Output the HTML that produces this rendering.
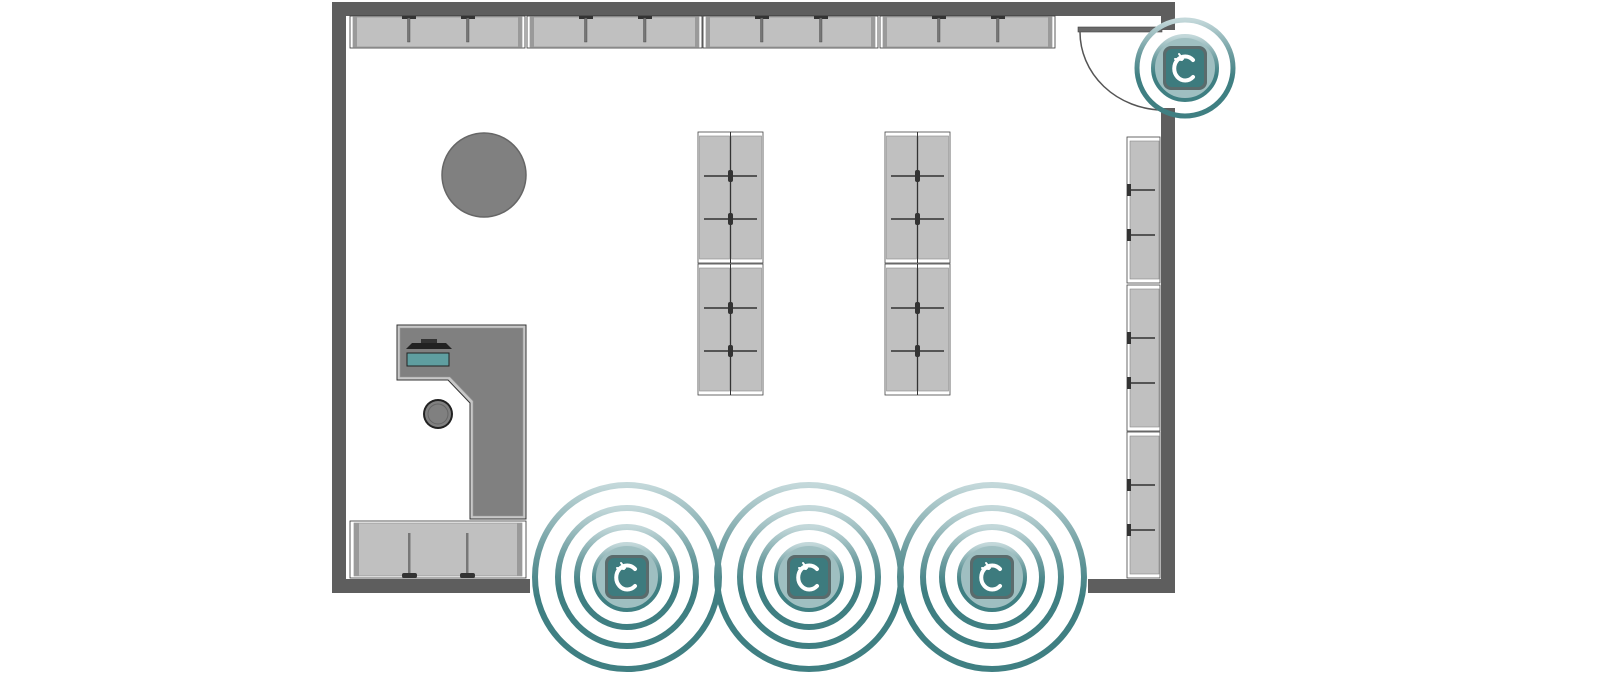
<!DOCTYPE html>
<html><head><meta charset="utf-8"><style>
html,body{margin:0;padding:0;background:#fff;width:1600px;height:688px;overflow:hidden}
svg{display:block}
</style></head><body>
<svg width="1600" height="688" viewBox="0 0 1600 688" xmlns="http://www.w3.org/2000/svg">
<defs>
<linearGradient id="rg" x1="0" y1="0" x2="0" y2="1">
<stop offset="0" stop-color="#c3d8da"/><stop offset="0.35" stop-color="#6d9da0"/><stop offset="0.6" stop-color="#3f7f82"/><stop offset="1" stop-color="#3f7f82"/>
</linearGradient>
<g id="hs">
<rect x="0" y="0" width="175" height="32" fill="#fff" stroke="#333" stroke-width="0.8"/>
<rect x="3" y="1" width="169" height="30" fill="#c0c0c0" stroke="#888" stroke-width="0.6"/>
<rect x="3" y="1" width="4" height="30" fill="#9a9a9a"/>
<rect x="168" y="1" width="4" height="30" fill="#9a9a9a"/>
<rect x="52" y="0" width="14" height="3" fill="#333"/>
<rect x="57.5" y="2" width="2.5" height="24" fill="#777" stroke="#444" stroke-width="0.4"/>
<rect x="111" y="0" width="14" height="3" fill="#333"/>
<rect x="116.5" y="2" width="2.5" height="24" fill="#777" stroke="#444" stroke-width="0.4"/>
</g>
<g id="vs">
<rect x="0" y="0" width="65" height="131" fill="#fff" stroke="#444" stroke-width="0.8"/>
<rect x="1.5" y="4" width="30" height="123" fill="#c0c0c0" stroke="#888" stroke-width="0.6"/>
<rect x="33.5" y="4" width="30" height="123" fill="#c0c0c0" stroke="#888" stroke-width="0.6"/>
<line x1="32.5" y1="0" x2="32.5" y2="131" stroke="#333" stroke-width="1"/>
<line x1="6" y1="44" x2="59" y2="44" stroke="#555" stroke-width="2"/>
<line x1="6" y1="87" x2="59" y2="87" stroke="#555" stroke-width="2"/>
<rect x="30" y="38" width="5" height="12" rx="2" fill="#333"/>
<rect x="30" y="81" width="5" height="12" rx="2" fill="#333"/>
</g>
<g id="rs">
<rect x="0" y="0" width="33" height="146" fill="#fff" stroke="#444" stroke-width="0.8"/>
<rect x="3" y="4" width="29" height="138" fill="#c0c0c0" stroke="#888" stroke-width="0.6"/>
<line x1="1" y1="53" x2="28" y2="53" stroke="#555" stroke-width="2"/>
<line x1="1" y1="98" x2="28" y2="98" stroke="#555" stroke-width="2"/>
<rect x="0" y="47" width="4" height="12" fill="#333"/>
<rect x="0" y="92" width="4" height="12" fill="#333"/>
</g>
<g id="badge">
<rect x="-22" y="-22" width="44" height="44" rx="8" fill="#5a6b6c"/>
<rect x="-19" y="-19" width="38" height="38" rx="6" fill="#3d7b7e"/>
<path d="M8 -8 A11 12 0 1 0 8 9" fill="none" stroke="#fff" stroke-width="4" stroke-linecap="round"/>
<path d="M-6 -14 L-2 -9 M-10 -9 L-3 -8" stroke="#fff" stroke-width="2" stroke-linecap="round"/>
</g>
<g id="beacon">
<circle r="92" fill="none" stroke="url(#rg)" stroke-width="6"/>
<circle r="69" fill="none" stroke="url(#rg)" stroke-width="6"/>
<circle r="50" fill="none" stroke="url(#rg)" stroke-width="6"/>
<circle r="33" fill="#9fbfc1"/>
<circle r="33" fill="none" stroke="url(#rg)" stroke-width="4"/>
<use href="#badge"/>
</g>
</defs>

<rect x="332" y="2" width="843" height="14" fill="#5e5e5e"/>
<rect x="332" y="2" width="14" height="591" fill="#5e5e5e"/>
<rect x="1161" y="2" width="14" height="28" fill="#5e5e5e"/>
<rect x="1161" y="108" width="14" height="485" fill="#5e5e5e"/>
<rect x="332" y="579" width="198" height="14" fill="#5e5e5e"/>
<rect x="1088" y="579" width="87" height="14" fill="#5e5e5e"/>

<use href="#hs" x="350" y="16"/>
<use href="#hs" x="527" y="16"/>
<use href="#hs" x="703" y="16"/>
<use href="#hs" x="880" y="16"/>

<rect x="1078" y="27" width="84" height="5" fill="#6a6a6a" stroke="#444" stroke-width="0.6"/>
<path d="M1080 32 A84 78 0 0 0 1162 110" fill="none" stroke="#555" stroke-width="1.5"/>

<circle cx="484" cy="175" r="42" fill="#808080" stroke="#666" stroke-width="1.5"/>

<use href="#vs" x="698" y="132"/>
<use href="#vs" x="698" y="264"/>
<use href="#vs" x="885" y="132"/>
<use href="#vs" x="885" y="264"/>

<use href="#rs" x="1127" y="137"/>
<use href="#rs" x="1127" y="285"/>
<use href="#rs" x="1127" y="432"/>

<polygon points="397,325 526,325 526,519 470,519 470,403 448,380 397,380" fill="#c8c8c8" stroke="#333" stroke-width="1"/>
<polygon points="400,328 523,328 523,516 473,516 473,401 450,377 400,377" fill="#808080" stroke="#999" stroke-width="0.6"/>
<path d="M406 349 L412 343 L446 343 L452 349 Z" fill="#222"/>
<rect x="421" y="339" width="16" height="4" fill="#333"/>
<rect x="407" y="353" width="42" height="13" fill="#5f9ea0" stroke="#222" stroke-width="1"/>
<circle cx="438" cy="414" r="15" fill="#222"/>
<circle cx="438" cy="414" r="13" fill="#808080"/>
<circle cx="438" cy="414" r="10" fill="none" stroke="#666"/>
<rect x="350" y="521" width="176" height="57" fill="#fff" stroke="#333" stroke-width="0.8"/>
<rect x="354" y="523" width="168" height="53" fill="#c0c0c0" stroke="#888" stroke-width="0.6"/>
<rect x="354" y="523" width="5" height="53" fill="#9a9a9a"/>
<rect x="517" y="523" width="5" height="53" fill="#9a9a9a"/>
<rect x="408" y="533" width="2.5" height="42" fill="#777"/>
<rect x="466" y="533" width="2.5" height="42" fill="#777"/>
<rect x="402" y="573" width="15" height="5" rx="2" fill="#333"/>
<rect x="460" y="573" width="15" height="5" rx="2" fill="#333"/>

<use href="#beacon" x="627" y="577"/>
<use href="#beacon" x="809" y="577"/>
<use href="#beacon" x="992" y="577"/>
<g transform="translate(1185,68)">
<circle r="48" fill="none" stroke="url(#rg)" stroke-width="5"/>
<circle r="32" fill="#9fbfc1"/>
<circle r="32" fill="none" stroke="url(#rg)" stroke-width="4"/>
<use href="#badge"/>
</g>
</svg>
</body></html>
